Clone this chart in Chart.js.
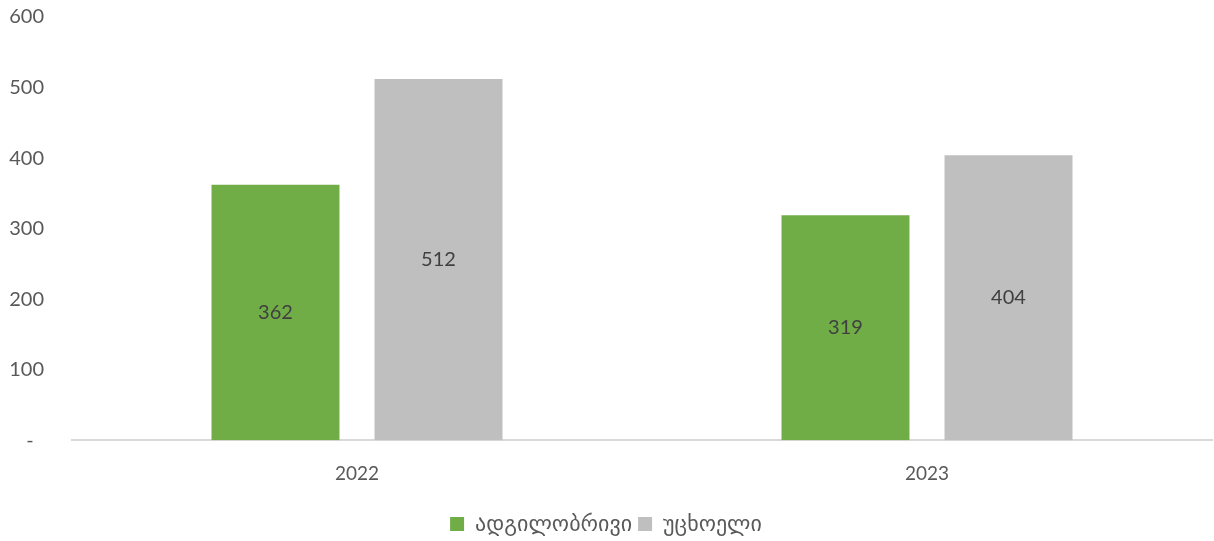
<!DOCTYPE html>
<html>
<head>
<meta charset="utf-8">
<script src="https://cdn.jsdelivr.net/npm/chart.js@4/dist/chart.umd.min.js"></script>
<style>
  html, body { margin: 0; padding: 0; background: #ffffff; }
  #wrap { width: 1214px; height: 541px; }
</style>
</head>
<body>
<div id="wrap"><canvas id="chart"></canvas></div>
<script>
const years = ['2022', '2023'];
const localValues = [362, 319];
const foreignValues = [512, 404];
const seriesNames = ['ადგილობრივი', 'უცხოელი'];
const yTicks = [0, 100, 200, 300, 400, 500, 600];

const textColor = '#595959';
const fontFam = "Lato, 'DejaVu Sans', sans-serif";

// writes each bar's value in the middle of the bar
const barValues = {
    id: 'barValues',
    afterDatasetsDraw(chart) {
        const ctx = chart.ctx;
        ctx.save();
        ctx.fillStyle = '#404040';
        ctx.font = '20px ' + fontFam;
        ctx.textAlign = 'center';
        ctx.textBaseline = 'middle';
        chart.data.datasets.forEach((ds, i) => {
            chart.getDatasetMeta(i).data.forEach((bar, j) => {
                ctx.fillText(String(ds.data[j]), bar.x, (bar.y + bar.base) / 2);
            });
        });
        ctx.restore();
    }
};

new Chart(document.getElementById('chart'), {
    type: 'bar',
    data: {
        labels: years,
        datasets: [{
            label: seriesNames[0],
            data: localValues,
            backgroundColor: '#70ad47',
            categoryPercentage: 0.572,
            barPercentage: 0.785
        }, {
            label: seriesNames[1],
            data: foreignValues,
            backgroundColor: '#bfbfbf',
            categoryPercentage: 0.572,
            barPercentage: 0.785
        }]
    },
    options: {
        responsive: true,
        maintainAspectRatio: false,
        animation: false,
        layout: { padding: { top: 17, right: 2, left: 0, bottom: -4 } },
        plugins: {
            legend: {
                position: 'bottom',
                labels: {
                    color: textColor,
                    font: { family: fontFam, size: 22 },
                    boxWidth: 14,
                    boxHeight: 14,
                    padding: 6
                }
            },
            tooltip: { enabled: false }
        },
        scales: {
            y: {
                min: 0,
                max: 600,
                afterBuildTicks: axis => { axis.ticks = yTicks.map(v => ({ value: v })); },
                afterFit: axis => {
                    axis.width = 72;
                    axis.paddingTop = 10;
                    axis.paddingBottom = 10;
                },
                grid: { display: false, drawTicks: false },
                border: { display: false },
                ticks: {
                    color: textColor,
                    font: { family: fontFam, size: 20 },
                    padding: 28,
                    callback: v => v === 0 ? '-  ' : v
                }
            },
            x: {
                grid: { display: false, drawTicks: false },
                border: { color: '#d9d9d9', width: 2 },
                ticks: {
                    color: textColor,
                    font: { family: fontFam, size: 19 },
                    padding: 22
                }
            }
        }
    },
    plugins: [barValues]
});
</script>
</body>
</html>
